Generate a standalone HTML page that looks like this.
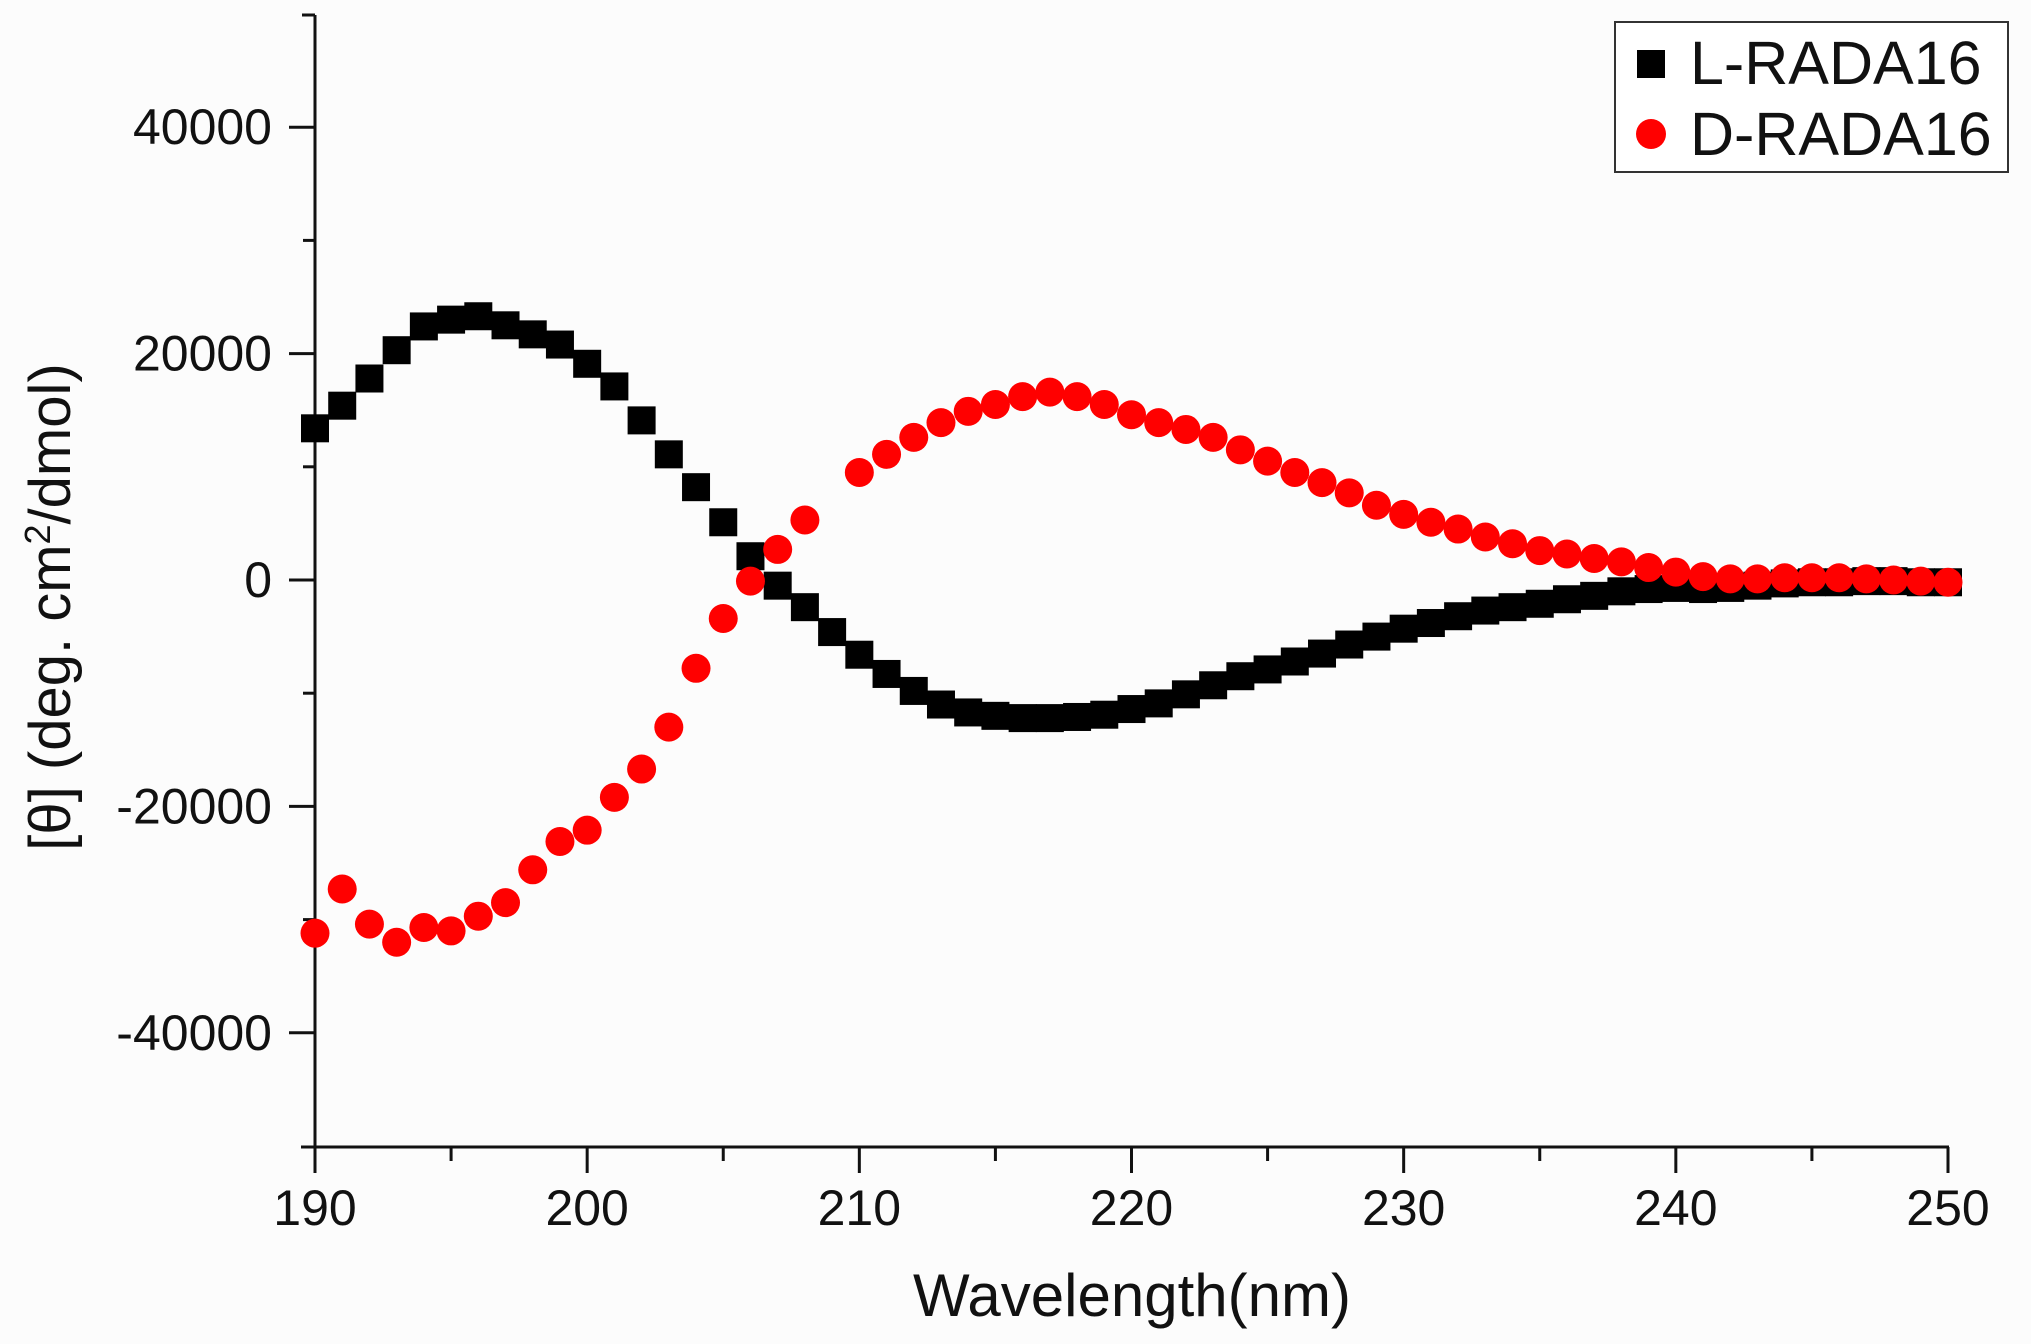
<!DOCTYPE html>
<html><head><meta charset="utf-8"><style>
html,body{margin:0;padding:0;background:#fcfcfc;}
svg{display:block;font-family:"Liberation Sans",sans-serif;}
</style></head><body>
<svg id="chart" width="2031" height="1344" viewBox="0 0 2031 1344" xmlns="http://www.w3.org/2000/svg">
<rect width="2031" height="1344" fill="#fcfcfc"/>
<g id="axes"></g>
<g id="series-l"></g>
<g id="series-d"></g>
<text x="1132" y="1316" font-size="60" text-anchor="middle" fill="#111">Wavelength(nm)</text>
<text transform="translate(70,607) rotate(-90)" font-size="58" text-anchor="middle" fill="#111">[θ]  (deg. cm<tspan font-size="36" dy="-20">2</tspan><tspan dy="20">/dmol)</tspan></text>
<g>
<rect x="1615" y="22" width="393" height="150" fill="#fff" stroke="#333" stroke-width="2"/>
<rect x="1637" y="50" width="28" height="28" fill="#000"/>
<text x="1690" y="84" font-size="61" fill="#111">L-RADA16</text>
<circle cx="1651" cy="134" r="15" fill="#f00"/>
<text x="1690" y="155" font-size="61" fill="#111">D-RADA16</text>
</g>
</svg>
<script>
const wavelengths = [190,191,192,193,194,195,196,197,198,199,200,201,202,203,204,205,206,207,208,209,210,211,212,213,214,215,216,217,218,219,220,221,222,223,224,225,226,227,228,229,230,231,232,233,234,235,236,237,238,239,240,241,242,243,244,245,246,247,248,249,250];
const lValues = [13400,15400,17800,20300,22400,23000,23300,22500,21700,20800,19100,17100,14100,11100,8200,5100,2100,-500,-2400,-4600,-6600,-8300,-9800,-11000,-11700,-12000,-12200,-12200,-12100,-11900,-11400,-10900,-10100,-9300,-8500,-7900,-7200,-6500,-5700,-5000,-4300,-3800,-3200,-2700,-2400,-2100,-1700,-1400,-1000,-800,-700,-800,-700,-500,-300,-200,-200,-100,-100,-200,-200];
const dValues = [-31200,-27300,-30400,-32000,-30700,-31000,-29700,-28500,-25600,-23100,-22100,-19200,-16700,-13000,-7800,-3400,-100,2700,5300,null,9500,11100,12600,13900,14900,15500,16200,16600,16200,15500,14600,13900,13300,12600,11500,10500,9500,8600,7700,6600,5800,5100,4500,3800,3200,2600,2300,1900,1600,1100,700,300,100,100,200,200,200,100,0,-100,-200];
const xTicks = [190,200,210,220,230,240,250];
const yTicks = [-40000,-20000,0,20000,40000];

const NS='http://www.w3.org/2000/svg';
function xs(v){return 315+(v-190)*(1948-315)/60;}
function ys(v){return 580-v*226.4/20000;}
function mk(tag,attrs,parent){const e=document.createElementNS(NS,tag);for(const k in attrs)e.setAttribute(k,attrs[k]);parent.appendChild(e);return e;}
const axes=document.getElementById('axes');
let e;
e=mk('line',{x1:315,y1:15,x2:315,y2:1148,stroke:'#111','stroke-width':3},axes);


e=mk('line',{x1:301,y1:1147,x2:1949,y2:1147,stroke:'#111','stroke-width':3},axes);


e=mk('line',{x1:302,y1:15,x2:315,y2:15,stroke:'#111','stroke-width':3},axes);


for(let v=-40000;v<=40000;v+=10000){
  const major=v%20000===0;
  e=mk('line',{x1:major?289:303,y1:ys(v),x2:315,y2:ys(v),stroke:'#111','stroke-width':3},axes);
  
  
}
yTicks.forEach(v=>{
  e=mk('text',{x:272,y:ys(v)+17,'font-size':50,'text-anchor':'end',fill:'#111'},axes);
  e.textContent=String(v);
  
  
});
for(let v=190;v<=250;v+=5){
  const major=v%10===0;
  e=mk('line',{x1:xs(v),y1:1147,x2:xs(v),y2:major?1173:1161,stroke:'#111','stroke-width':3},axes);
  
  
}
xTicks.forEach(v=>{
  e=mk('text',{x:xs(v),y:1225,'font-size':50,'text-anchor':'middle',fill:'#111'},axes);
  e.textContent=String(v);
  
  
});
const gl=document.getElementById('series-l');
wavelengths.forEach((w,i)=>{
  const v=lValues[i]; if(v===null)return;
  const r=mk('rect',{x:xs(w)-14,y:ys(v)-14,width:28,height:28,fill:'#000'},gl);
  
  
});
const gd=document.getElementById('series-d');
wavelengths.forEach((w,i)=>{
  const v=dValues[i]; if(v===null)return;
  const c=mk('circle',{cx:xs(w),cy:ys(v),r:14.5,fill:'#f00'},gd);
  
  
});
</script>
</body></html>
